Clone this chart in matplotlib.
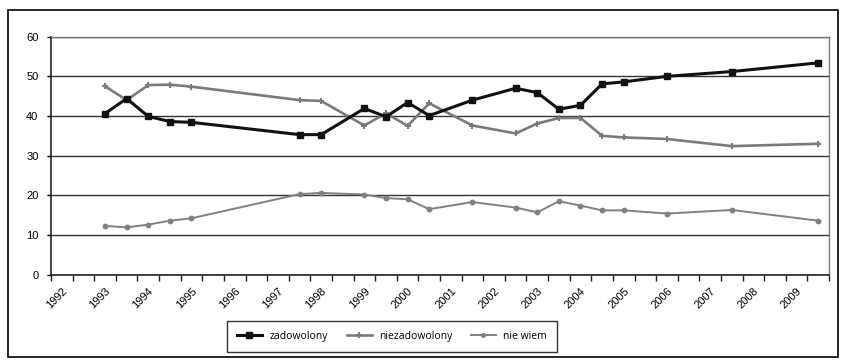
import numpy as np
import matplotlib.pyplot as plt
from matplotlib.patches import Rectangle

# half-year periods counted from 1992 H1 (0) to 2009 H2 (35)
periods = [2, 3, 4, 5, 6, 11, 12, 14, 15, 16, 17, 19, 21, 22, 23, 24, 25, 26, 28, 31, 35]
zadowolony = [40.6, 44.4, 39.9, 38.6, 38.4, 35.3, 35.3, 41.9, 39.8, 43.4, 40.1,
              44.0, 47.0, 45.9, 41.7, 42.7, 48.1, 48.6, 50.0, 51.2, 53.4]
niezadowolony = [47.5, 44.0, 47.8, 47.9, 47.4, 44.0, 43.8, 37.6, 40.7, 37.5, 43.2,
                 37.6, 35.6, 38.1, 39.5, 39.5, 35.0, 34.6, 34.2, 32.4, 33.0]
nie_wiem = [12.3, 11.9, 12.6, 13.6, 14.2, 20.3, 20.6, 20.2, 19.3, 19.0, 16.5,
            18.3, 16.9, 15.7, 18.5, 17.4, 16.2, 16.2, 15.4, 16.3, 13.6]
years = list(range(1992, 2010))
n_periods = 36

plt.rcParams['font.family'] = ['Liberation Sans', 'DejaVu Sans']

fig = plt.figure(figsize=(8.47, 3.64), dpi=100)
ax = fig.add_axes([0.0602, 0.2456, 0.9186, 0.6536])

x = np.array(periods) + 0.5
ax.plot(x, nie_wiem, color='#808080', lw=1.4, marker='o', ms=3.2,
        label='nie wiem', zorder=3)
ax.plot(x, niezadowolony, color='#7a7a7a', lw=1.9, marker='+', ms=5, mew=1.5,
        label='niezadowolony', zorder=4)
ax.plot(x, zadowolony, color='#111111', lw=2.2, marker='s', ms=5,
        label='zadowolony', zorder=5)

ax.set_xlim(0, n_periods)
ax.set_ylim(0, 60)
ax.set_yticks(range(0, 61, 10))
ax.yaxis.grid(True, color='#333333', lw=1.0)
ax.set_axisbelow(True)

ax.set_xticks(range(0, n_periods + 1))
ax.set_xticklabels([])
ax.tick_params(axis='x', which='major', length=4, width=1, color='#222222')
ax.set_xticks([2 * i + 0.5 for i in range(len(years))], minor=True)
ax.set_xticklabels([str(y) for y in years], minor=True, rotation=45,
                   ha='right', va='top', rotation_mode='anchor', fontsize=8)
ax.tick_params(axis='x', which='minor', length=0, pad=8)
ax.tick_params(axis='y', length=3, width=1, labelsize=8, pad=6)

for s in ['left', 'bottom']:
    ax.spines[s].set_color('#111111')
    ax.spines[s].set_linewidth(1.1)
for s in ['right', 'top']:
    ax.spines[s].set_color('#777777')
    ax.spines[s].set_linewidth(1.0)

handles, labels = ax.get_legend_handles_labels()
order = [2, 1, 0]
leg = fig.legend([handles[i] for i in order], [labels[i] for i in order],
                 loc='center', bbox_to_anchor=(0.4628, 0.0755), ncol=3,
                 frameon=True, fancybox=False, edgecolor='black',
                 prop={'family': 'Open Sans', 'size': 7.5}, borderpad=1.0,
                 handlelength=2.4, columnspacing=1.8, handletextpad=0.7,
                 markerscale=0.8)
leg.get_frame().set_linewidth(1.0)

# outer frame around the whole chart
fig.patches.append(Rectangle((8 / 847, 1 - 357 / 364), 830 / 847, 347 / 364,
                             transform=fig.transFigure, fill=False,
                             edgecolor='black', lw=1.2))

fig.savefig('out.png', dpi=100)
